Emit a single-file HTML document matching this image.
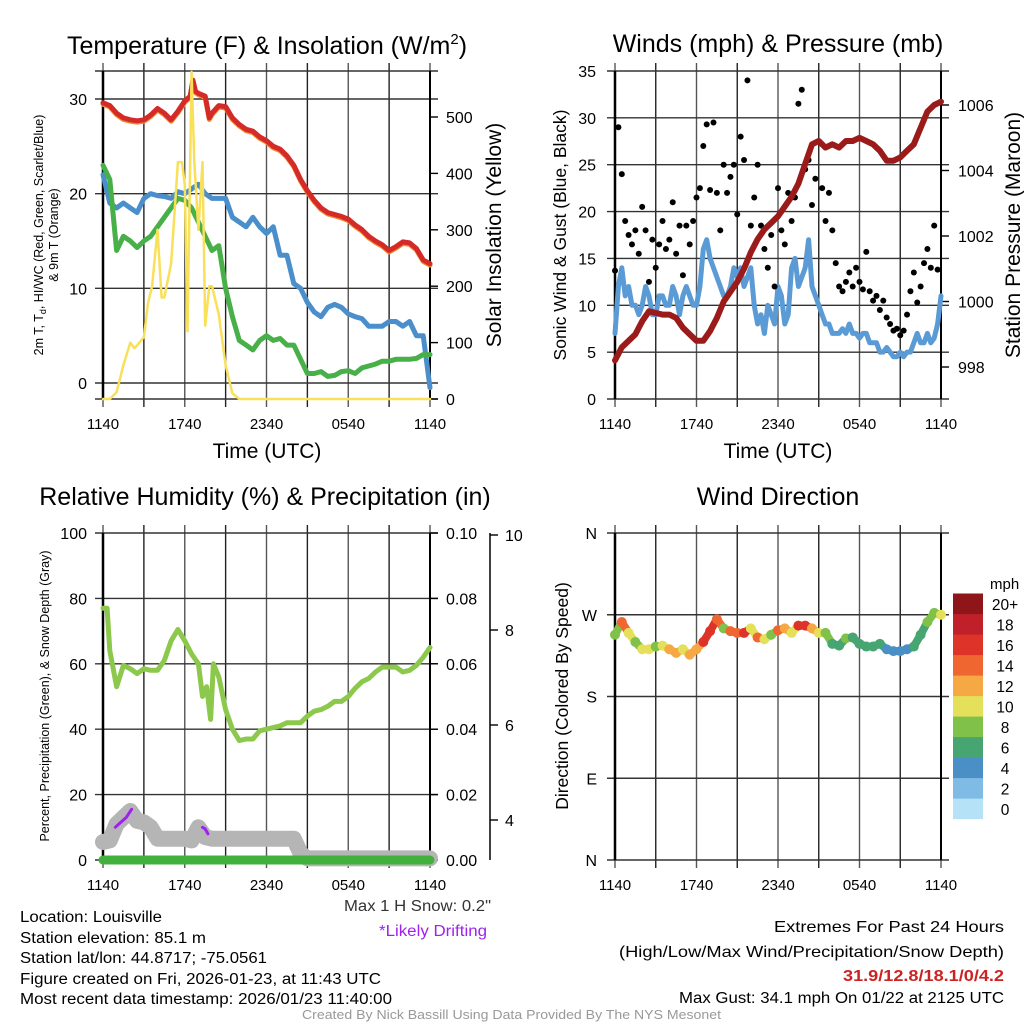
<!DOCTYPE html>
<html><head><meta charset="utf-8"><style>
html,body{margin:0;padding:0;background:#fff;}
svg{display:block;font-family:"Liberation Sans Narrow","Liberation Sans",sans-serif;}
.t{font-family:"Liberation Sans",sans-serif;}
</style></head><body>
<svg id="s" width="1024" height="1024" viewBox="0 0 1024 1024" xmlns="http://www.w3.org/2000/svg">
<g id="static">
<text class="t" x="267" y="54" font-size="25" text-anchor="middle">Temperature (F) &amp; Insolation (W/m<tspan font-size="15" dy="-10">2</tspan><tspan dy="10">)</tspan></text>
<text class="t" x="778" y="52" font-size="25" text-anchor="middle">Winds (mph) &amp; Pressure (mb)</text>
<text class="t" x="265" y="505" font-size="25" text-anchor="middle">Relative Humidity (%) &amp; Precipitation (in)</text>
<text class="t" x="778" y="505" font-size="25" text-anchor="middle">Wind Direction</text>
<text class="t" x="267" y="458" font-size="21" text-anchor="middle">Time (UTC)</text>
<text class="t" x="778" y="458" font-size="21" text-anchor="middle">Time (UTC)</text>
<text class="t" transform="translate(43,235) rotate(-90)" font-size="12.5" text-anchor="middle">2m T, T<tspan font-size="9" dy="3">d</tspan><tspan dy="-3">, HI/WC (Red, Green, Scarlet/Blue)</tspan></text>
<text class="t" transform="translate(58,235) rotate(-90)" font-size="12.5" text-anchor="middle">&amp; 9m T (Orange)</text>
<text class="t" transform="translate(501,235) rotate(-90)" font-size="21" text-anchor="middle">Solar Insolation (Yellow)</text>
<text class="t" transform="translate(566,235) rotate(-90)" font-size="17.5" text-anchor="middle">Sonic Wind &amp; Gust (Blue, Black)</text>
<text class="t" transform="translate(1020,235) rotate(-90)" font-size="21" text-anchor="middle">Station Pressure (Maroon)</text>
<text class="t" transform="translate(49,696) rotate(-90)" font-size="12.5" text-anchor="middle">Percent, Precipitation (Green), &amp; Snow Depth (Gray)</text>
<text class="t" transform="translate(568,696) rotate(-90)" font-size="17.5" text-anchor="middle">Direction (Colored By Speed)</text>
<text x="990" y="589" font-size="15" text-anchor="start">mph</text>
<g font-size="15.5">
<text x="344" y="911" fill="#333" textLength="147" lengthAdjust="spacingAndGlyphs">Max 1 H Snow: 0.2"</text>
<text x="379" y="936" fill="#a020f0" textLength="108" lengthAdjust="spacingAndGlyphs">*Likely Drifting</text>
<text x="20" y="922" textLength="142" lengthAdjust="spacingAndGlyphs">Location: Louisville</text>
<text x="20" y="943" textLength="186" lengthAdjust="spacingAndGlyphs">Station elevation: 85.1 m</text>
<text x="20" y="963" textLength="247" lengthAdjust="spacingAndGlyphs">Station lat/lon: 44.8717; -75.0561</text>
<text x="20" y="984" textLength="361" lengthAdjust="spacingAndGlyphs">Figure created on Fri, 2026-01-23, at 11:43 UTC</text>
<text x="20" y="1004" textLength="372" lengthAdjust="spacingAndGlyphs">Most recent data timestamp: 2026/01/23 11:40:00</text>
<text x="1004" y="932" text-anchor="end" font-size="16" textLength="230" lengthAdjust="spacingAndGlyphs">Extremes For Past 24 Hours</text>
<text x="1004" y="957" text-anchor="end" font-size="16" textLength="385" lengthAdjust="spacingAndGlyphs">(High/Low/Max Wind/Precipitation/Snow Depth)</text>
<text x="1004" y="981" text-anchor="end" font-size="16" font-weight="bold" fill="#cc2222" textLength="161" lengthAdjust="spacingAndGlyphs">31.9/12.8/18.1/0/4.2</text>
<text x="1004" y="1003" text-anchor="end" font-size="15.5" textLength="325" lengthAdjust="spacingAndGlyphs">Max Gust: 34.1 mph On 01/22 at 2125 UTC</text>
<text x="302" y="1019" font-size="12.5" fill="#999" textLength="419" lengthAdjust="spacingAndGlyphs">Created By Nick Bassill Using Data Provided By The NYS Mesonet</text>
</g>
</g>
</svg>
<script>
// ---------- data ----------
const xTickLabels = ["1140","1740","2340","0540","1140"];
const halfHours = [0,0.5,1,1.5,2,2.5,3,3.5,4,4.5,5,5.5,6,6.5,7,7.5,8,8.5,9,9.5,10,10.5,11,11.5,12,12.5,13,13.5,14,14.5,15,15.5,16,16.5,17,17.5,18,18.5,19,19.5,20,20.5,21,21.5,22,22.5,23,23.5,24];
const tempTimes = [0,0.5,1,1.5,2,2.5,3,3.5,4,4.5,5,5.5,6,6.4,6.6,6.8,7,7.5,7.8,8,8.5,9,9.5,10,10.5,11,11.5,12,12.5,13,13.5,14,14.5,15,15.5,16,16.5,17,17.5,18,18.5,19,19.5,20,20.5,21,21.5,22,22.5,23,23.5,24];
const temp2m = [29.6,29.3,28.5,28,27.8,27.7,27.8,28.3,29,28.5,27.8,28.7,29.8,30.3,32,30.8,30.6,30.3,28,28.5,29.3,29.2,28,27.3,26.8,26.6,26,25.6,25,24.7,24,23,21.5,20.3,19.3,18.5,18,17.8,17.6,17.3,16.7,16.2,15.5,15,14.6,14,14.4,14.9,14.8,14.2,13,12.6];
const windChill = [22,19,18.5,19,18.5,18,19.5,20,19.8,19.7,19.5,20.2,20,20.5,21,20,19.5,19.5,19.5,17.5,17,16.5,17.5,16.5,15.8,16.5,13.5,13.5,10.5,10,8.5,7.5,7,8,8.3,8,7.3,7,6.8,6,6,6,6.5,6.5,6,6.5,5,5,-0.5];
const dewpoint = [23,21.5,14,15.5,15,14.3,15,15.5,16.5,17.5,18.5,19.5,19.3,18.5,17,15.5,14,14.5,10,7,4.5,4,3.5,4.5,5,4.5,4.7,4,4,2.5,1,1,1.2,0.7,0.8,1.2,1.3,1,1.6,1.8,2,2.3,2.3,2.5,2.5,2.5,2.6,3,3];
const solarTimes = [0,0.5,1,1.5,2,2.3,2.5,3,3.3,3.6,4,4.3,4.5,5,5.5,5.8,6,6.2,6.5,6.7,7,7.3,7.5,7.8,8,8.5,9,9.5,10,10.5,24];
const solar = [0,0,12,60,100,90,95,110,170,200,300,180,180,240,420,420,380,120,580,420,300,420,130,200,200,150,60,10,0,0,0];
const pressure = [998.2,998.6,998.8,999.0,999.4,999.7,999.65,999.6,999.6,999.5,999.2,999.0,998.8,998.8,999.1,999.5,1000.0,1000.3,1000.6,1001.0,1001.5,1001.9,1002.2,1002.4,1002.6,1002.9,1003.2,1003.6,1004.2,1004.8,1004.9,1004.7,1004.8,1004.7,1004.9,1004.9,1005.0,1004.9,1004.8,1004.6,1004.3,1004.3,1004.4,1004.6,1004.8,1005.3,1005.8,1006.0,1006.1];
const windSpeed = [7,12,14,11,12,10,10,9,10, 12,11,9,9,11,11,10,10, 12,11,9,11,12,11,10,10, 12,16,17,15,14,13,12,11, 11,12,14,13,14,12,13,14, 10,8,9,7,10,9,8,12, 11,8,9,14,15,12,13,14, 17,12,11,10,9,8,8,7, 7,7,7.5,7,8,7,7,6.5, 7,7,6,6,6,5,5,5.5, 5,4.5,4.5,5,4.5,5,5,6, 7,6,6,7,6,6.5,8,11];
const gust = [13.7,29,24,19,17.5,16.5,18,15.5,20.5,18,12.5,17,14,16.5,19,16,17,21,15.5,18.5,13.2,18.5,16.5,19,21.5,22.5,27,29.3,22.3,29.5,22,18,25,22,23.7,25,19.7,28,25.5,34,18.5,21.5,25,18.5,16,14,17.5,12,22.5,18,16.5,22,19,21.5,31.5,33,24.5,25.5,20.7,23.5,27.5,22.5,19,22,18,14.5,12,11.5,12.5,13.5,12,14,12.5,11.7,15.7,11.5,10.5,11,9.5,10.5,8.7,8,7.3,7.5,6.8,7.3,9,11.5,13.5,10.3,12,14.5,16,14,18.5,13.8];
const windDir = [248,262,250,240,232,232,235,236,232,228,232,226,232,240,252,265,255,252,250,250,255,245,243,248,253,255,250,258,258,255,250,250,238,236,244,245,238,235,235,238,232,230,230,232,235,248,262,272,270];
const dirSpeed = [8,14,11,9,10,10,8,10,12,12,11,13,13,17,16,14,9,15,14,16,11,14,10,9,14,13,11,17,16,13,11,9,7,7,8,7,6,7,6,6,5,4,4,5,7,7,8,9,10];
const rhTimes = [0,0.3,0.5,1,1.5,2,2.5,3,3.5,4,4.5,5,5.5,6,6.5,7,7.3,7.6,7.9,8.1,8.5,9,9.5,10,10.5,11,11.5,12,12.5,13,13.5,14,14.5,15,15.5,16,16.5,17,17.5,18,18.5,19,19.5,20,20.5,21,21.5,22,22.5,23,23.5,24];
const rh = [77,77,64,53,59.5,58.5,57,58.5,58,58,61,67,70.5,67,63,60,50,53,43,60,56,46,40,36.5,37,37,39.5,40,40.5,41,42,42,42,44,45.5,46,47,48.5,48.5,50,52.5,54.5,55.5,57.5,59,59,59,57.5,58,59.5,62,65];
const snowTimes = [0,0.5,1,1.5,2,2.5,3,3.5,4,5,6,6.5,7,7.5,8,9,10,11,12,13,14,14.5,15,24];
const snowDepth = [5.5,6,11,13,15,12,11.5,10,6.5,6.5,6.5,6,10,7,6.5,6.5,6.5,6.5,6.5,6.5,6.5,2,0.5,0.5];
const driftTimes = [0.9,1.3,1.7,2.1];
const driftVals = [10,11.5,13,15.5];
const drift2Times = [7.3,7.5,7.7];
const drift2Vals = [10,9.5,8];
const precipTimes = [0,24];
const precip = [0,0];
const tempTicks = [0,10,20,30];
const solarTicks = [0,100,200,300,400,500];
const windTicks = [0,5,10,15,20,25,30,35];
const pressTicks = [998,1000,1002,1004,1006];
const rhTicks = [0,20,40,60,80,100];
const precipTicks = ["0.00","0.02","0.04","0.06","0.08","0.10"];
const snowAxisTicks = [4,6,8,10];
const dirLabels = ["N","E","S","W","N"];
const cbLabels = ["0","2","4","6","8","10","12","14","16","18","20+"];
const cbColors = ["#b5e2f7","#7fbbe4","#4a8fc6","#46a570","#80c14a","#e5e05a","#f6a844","#ef6630","#dd3328","#c0202a","#8e1618"];

// ---------- helpers ----------
const NS="http://www.w3.org/2000/svg", svg=document.getElementById('s');
function mk(tag, attrs, parent){const e=document.createElementNS(NS,tag);for(const k in attrs)e.setAttribute(k,attrs[k]);(parent||svg).appendChild(e);return e;}
function panel(x0,x1,y0,y1){return {x0,x1,y0,y1,sx:h=>x0+(x1-x0)*h/24};}
function lin(d0,d1,r0,r1){return v=>r0+(v-d0)*(r1-r0)/(d1-d0);}
function pathD(ts,vs,sx,sy){return ts.map((t,i)=>(i?'L':'M')+sx(t).toFixed(1)+','+sy(vs[i]).toFixed(1)).join('');}
function grid(p,g,hy){
  for(let i=0;i<=8;i++){const x=p.sx(i*3);
    const l=mk('line',{x1:x,x2:x,y1:p.y0-8,y2:p.y1+8,stroke:i%2?'#222':'#555','stroke-width':1.4},g);
    }
  hy.forEach(y=>{const l=mk('line',{x1:p.x0-8,x2:p.x1+8,y1:y,y2:y,stroke:'#333','stroke-width':1.4},g);
    });
  const f=mk('line',{x1:p.x0,x2:p.x0,y1:p.y0,y2:p.y1,stroke:'#000','stroke-width':2.5},g);
  
  const r=mk('line',{x1:p.x1,x2:p.x1,y1:p.y0,y2:p.y1,stroke:'#000','stroke-width':2},g);
  
  xTickLabels.forEach((s,i)=>{const t=mk('text',{x:p.sx(i*6),y:p.y1+30,'font-size':15,'text-anchor':'middle'},g);t.textContent=s;
    });
}
function ylabels(vals,labs,sy,x,anchor,g,name){vals.forEach((v,i)=>{const t=mk('text',{x:x,y:sy(v)+6,'font-size':16,'text-anchor':anchor},g);t.textContent=labs[i];
  });}
function rticks(vals,sy,x,g){vals.forEach(v=>{const l=mk('line',{x1:x,x2:x+8,y1:sy(v),y2:sy(v),stroke:'#000','stroke-width':1.4},g);
  });}
function line(ts,vs,sx,sy,col,w,g,name,op){const e=mk('path',{d:pathD(ts,vs,sx,sy),fill:'none',stroke:col,'stroke-width':w,'stroke-linejoin':'round','stroke-linecap':'round','stroke-opacity':op||1},g);
  return e;}

// ---------- panel 1 ----------
{const p=panel(103,430,71,399);const g=mk('g',{});
 
 const sy=lin(0,30,383,99), sr=lin(0,500,399,117);
 grid(p,g,[p.y0].concat(tempTicks.map(sy)).concat([p.y1]));
 ylabels(tempTicks,tempTicks.map(String),sy,87,'end',g,'temp-y-tick-label');
 ylabels(solarTicks,solarTicks.map(String),sr,446,'start',g,'solar-y-tick-label');
 rticks(solarTicks,sr,p.x1,g);
 line(halfHours,windChill,p.sx,sy,'#4a8fcb',5,g,'windchill-line');
 line(halfHours,dewpoint,p.sx,sy,'#47b048',5,g,'dewpoint-line');
 line(tempTimes,temp2m.map(v=>v-0.15),p.sx,sy,'#f08a30',5,g,'9m-temp-line');
 line(tempTimes,temp2m,p.sx,sy,'#d42a28',5,g,'2m-temp-line');
 line(solarTimes,solar,p.sx,sr,'#f9e05a',2.5,g,'solar-line');
}
// ---------- panel 2 ----------
{const p=panel(615,941,71,399);const g=mk('g',{});
 
 const sy=lin(0,35,399,71), sp=lin(998,1006,367,105);
 grid(p,g,windTicks.map(sy));
 ylabels(windTicks,windTicks.map(String),sy,596,'end',g,'wind-y-tick-label');
 ylabels(pressTicks,pressTicks.map(String),sp,958,'start',g,'pressure-y-tick-label');
 rticks(pressTicks,sp,p.x1,g);
 line(windSpeed.map((v,i)=>i*0.25),windSpeed,p.sx,sy,'#5b9bd5',5,g,'wind-speed-line');
 gust.forEach((v,i)=>{const c=mk('circle',{cx:p.sx(i*0.25),cy:sy(v),r:3,fill:'#000'},g);
   });
 line(halfHours,pressure,p.sx,sp,'#9b1b1b',6,g,'pressure-line');
}
// ---------- panel 3 ----------
{const p=panel(103,430,533,860);const g=mk('g',{});
 
 const sy=lin(0,100,860,533), ss=lin(4,10,820,535);
 grid(p,g,rhTicks.map(sy));
 ylabels(rhTicks,rhTicks.map(String),sy,87,'end',g,'rh-y-tick-label');
 ylabels(rhTicks,precipTicks,sy,446,'start',g,'precip-y-tick-label');
 rticks(rhTicks,sy,p.x1,g);
 const ax=mk('line',{x1:490,x2:490,y1:533,y2:860,stroke:'#000','stroke-width':1.5},g);
 
 snowAxisTicks.forEach(v=>{const l=mk('line',{x1:490,x2:498,y1:ss(v),y2:ss(v),stroke:'#000','stroke-width':1.4},g);
   });
 ylabels(snowAxisTicks,snowAxisTicks.map(String),ss,505,'start',g,'snow-y-tick-label');
 line(snowTimes,snowDepth,p.sx,sy,'#b5b5b5',16,g,'snow-depth-line');
 line(precipTimes,precip,p.sx,sy,'#42b03c',9,g,'precip-line');
 line(driftTimes,driftVals,p.sx,sy,'#a020f0',3,g,'drifting-line');
 line(drift2Times,drift2Vals,p.sx,sy,'#a020f0',3,g,'drifting-line-2');
 line(rhTimes,rh,p.sx,sy,'#8cc84b',5,g,'rh-line');
}
// ---------- panel 4 ----------
{const p=panel(615,941,533,860);const g=mk('g',{});
 
 const sy=lin(0,360,860,533);
 grid(p,g,[0,90,180,270,360].map(sy));
 ylabels([0,90,180,270,360],dirLabels,sy,597,'end',g,'direction-y-tick-label');
 const col=s=>cbColors[Math.min(10,Math.max(0,Math.floor(s/2)))];
 for(let i=0;i<windDir.length-1;i++){const s=mk('line',{x1:p.sx(halfHours[i]),y1:sy(windDir[i]),x2:p.sx(halfHours[i+1]),y2:sy(windDir[i+1]),stroke:col(dirSpeed[i]),'stroke-width':8,'stroke-linecap':'round'},g);
   }
 windDir.forEach((v,i)=>{const c=mk('circle',{cx:p.sx(halfHours[i]),cy:sy(v),r:5,fill:col(dirSpeed[i])},g);
   });
 cbColors.forEach((c,i)=>{const r=mk('rect',{x:953,y:819-(i+1)*20.5,width:30,height:20.6,fill:c},g);
   
   const t=mk('text',{x:1005,y:819-(i+0.5)*20.5+6,'font-size':15.5,'text-anchor':'middle'},g);t.textContent=cbLabels[i];
   });
}
</script>
</body></html>
